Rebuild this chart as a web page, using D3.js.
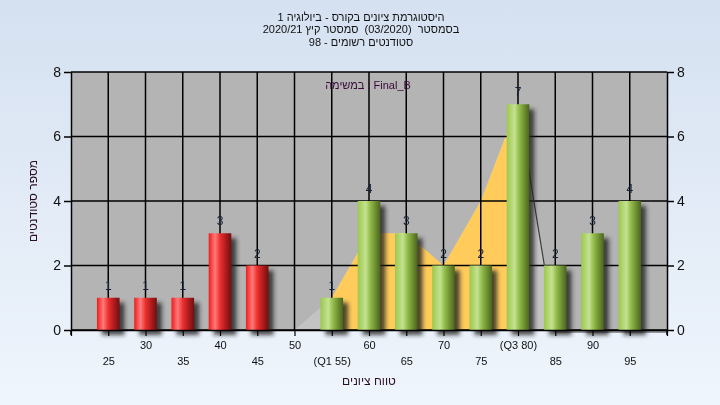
<!DOCTYPE html>
<html><head><meta charset="utf-8">
<script src="https://cdn.jsdelivr.net/npm/d3@7"></script>
<style>
html,body{margin:0;padding:0;}
body{width:720px;height:405px;overflow:hidden;font-family:"Liberation Sans","DejaVu Sans",Arial,sans-serif;}
</style></head>
<body>
<svg id="c" width="720" height="405"></svg>
<script>
// ---- data ----
const binStarts = [25,30,35,40,45,50,55,60,65,70,75,80,85,90,95];
const counts    = [1,1,1,3,2,0,1,4,3,2,2,7,2,3,4];
const tickLabels = ["25","30","35","40","45","50","(Q1 55)","60","65","70","75","(Q3 80)","85","90","95"];
const areaX = [50,55,60,65,70,75,80,85,90,95,100];
const areaY = [0,1,3,3,2,4,7,0,0,0,0];
const yTicks = [0,2,4,6,8];
const titleLines = ["היסטוגרמת ציונים בקורס - ביולוגיה 1","בסמסטר  (03/2020)  סמסטר קיץ 2020/21","סטודנטים רשומים - 98"];
const taskLabel = "במשימה : Final_B";
const xTitle = "טווח ציונים";
const yTitle = "מספר סטודנטים";
const q1 = 55, q3 = 80, passMark = 55;

const svg = d3.select("#c");
const W=720,H=405;
const L=71,R=667,T=72,B=330;
const x = d3.scaleLinear([20,100],[L,R]);
const y = d3.scaleLinear([0,8],[B,T]);

const defs = svg.append("defs");
const bg = defs.append("linearGradient").attr("id","bg").attr("x1",0).attr("y1",0).attr("x2",0).attr("y2",1);
bg.append("stop").attr("offset","0%").attr("stop-color","#d5e1f1");
bg.append("stop").attr("offset","100%").attr("stop-color","#eff5fc");
function grad(id,stops){
  const g=defs.append("linearGradient").attr("id",id).attr("x1",0).attr("y1",0).attr("x2",1).attr("y2",0);
  stops.forEach(s=>g.append("stop").attr("offset",s[0]).attr("stop-color",s[1]));
}
grad("red",[["0%","#f01c1c"],["28%","#ff7a7a"],["50%","#ec3030"],["75%","#b01c1c"],["100%","#701010"]]);
grad("green",[["0%","#9cc84e"],["35%","#c4e290"],["55%","#94bc4c"],["80%","#6a8c30"],["100%","#4a641e"]]);
const f = defs.append("filter").attr("id","sh").attr("x","-50%").attr("y","-50%").attr("width","200%").attr("height","200%");
f.append("feGaussianBlur").attr("stdDeviation",2.2);
defs.append("clipPath").attr("id","q").append("rect").attr("x",x(q1)).attr("y",T).attr("width",x(q3)-x(q1)).attr("height",B-T);
defs.append("clipPath").attr("id","plot").append("rect").attr("x",L).attr("y",T).attr("width",R-L).attr("height",B-T);

svg.append("rect").attr("width",W).attr("height",H).attr("fill","url(#bg)");
svg.append("rect").attr("x",L).attr("y",T).attr("width",R-L).attr("height",B-T).attr("fill","#b4b4b4");

// area (distribution outline)
const pts = areaX.map((v,i)=>[v,areaY[i]]);
const area = d3.area().x(d=>x(d[0])).y0(y(0)).y1(d=>y(d[1]));
svg.append("path").datum(pts).attr("d",area).attr("fill","#c3c3c3").attr("clip-path","url(#plot)");
svg.append("path").datum(pts).attr("d",area).attr("fill","#ffcc5c").attr("clip-path","url(#q)");

// grid
const g = svg.append("g").attr("stroke","#000").attr("stroke-width",1.5);
binStarts.forEach(v=>g.append("line").attr("x1",x(v)).attr("x2",x(v)).attr("y1",T).attr("y2",B));
yTicks.forEach(v=>g.append("line").attr("x1",L).attr("x2",R).attr("y1",y(v)).attr("y2",y(v)));

// area edge line after Q3
const edge = pts.filter(d=>d[0]>=q3);
svg.append("path").datum(edge).attr("d",d3.line().x(d=>x(d[0])).y(d=>d[1]===0?y(0)+2:y(d[1])))
  .attr("fill","none").attr("stroke","#3c3c3c").attr("stroke-width",1.2);

// bars
const bw = 22.6;
const data = binStarts.map((v,i)=>({v,c:counts[i],lab:tickLabels[i]})).filter(d=>d.c>0);
svg.append("g").attr("filter","url(#sh)").selectAll("rect").data(data).join("rect")
  .attr("x",d=>x(d.v)-bw/2+5).attr("y",d=>y(d.c)+5).attr("width",bw).attr("height",d=>y(0)-y(d.c))
  .attr("fill","#202020").attr("opacity",0.8);
svg.append("g").selectAll("rect").data(data).join("rect")
  .attr("x",d=>x(d.v)-bw/2).attr("y",d=>y(d.c)).attr("width",bw).attr("height",d=>y(0)-y(d.c))
  .attr("fill",d=>d.v<passMark?"url(#red)":"url(#green)");
svg.append("g").selectAll("text").data(data).join("text")
  .attr("x",d=>x(d.v)).attr("y",d=>y(d.c)-8).attr("text-anchor","middle")
  .attr("font-size",12).attr("fill","#142238").text(d=>d.c);

// axes
const axB = svg.append("g").attr("transform",`translate(0,${B})`)
  .call(d3.axisBottom(x).tickValues([20,...binStarts,100]).tickSize(6).tickSizeOuter(0)
    .tickFormat(v=>{const i=binStarts.indexOf(v);return i<0?"":tickLabels[i];}));
axB.select(".domain").attr("stroke","#000").attr("stroke-width",1.5);
axB.selectAll(".tick line").attr("stroke","#000").attr("stroke-width",1.2);
axB.selectAll(".tick text").attr("font-size",11).attr("fill","#111").attr("font-family","Liberation Sans, Arial, sans-serif")
  .attr("y",(v)=>{const i=binStarts.indexOf(v);return i%2===1?11:27;});

function yAxis(gen,xpos){
  const a = svg.append("g").attr("transform",`translate(${xpos},0)`).call(gen.tickValues(yTicks).tickSize(7).tickSizeOuter(0).tickFormat(d3.format("d")));
  a.select(".domain").attr("stroke","#000").attr("stroke-width",1.5);
  a.selectAll(".tick line").attr("stroke","#000").attr("stroke-width",1.5);
  a.selectAll(".tick text").attr("font-size",14).attr("fill","#111").attr("font-family","Liberation Sans, Arial, sans-serif");
  return a;
}
yAxis(d3.axisLeft(y),L);
yAxis(d3.axisRight(y),R);
[L,R].forEach(xx=>svg.append("line").attr("x1",xx).attr("x2",xx).attr("y1",B).attr("y2",B+5).attr("stroke","#000").attr("stroke-width",1.5));

// titles (plain text, natural bidi)
const tt = svg.append("g").attr("font-size",11).attr("fill","#111").attr("text-anchor","middle");
titleLines.forEach((t,i)=>tt.append("text").attr("x",361).attr("y",21+i*12.3).attr("xml:space","preserve").style("white-space","pre").text(t));
svg.append("text").attr("x",368).attr("y",89).attr("text-anchor","middle")
  .attr("font-size",11).attr("fill","#3a0a3a").text(taskLabel);
svg.append("text").attr("x",369).attr("y",385).attr("text-anchor","middle")
  .attr("font-size",12).attr("fill","#2a1020").text(xTitle);
svg.append("text").attr("transform",`translate(37,${(T+B)/2}) rotate(-90)`).attr("text-anchor","middle")
  .attr("font-size",12).attr("fill","#2a1020").text(yTitle);
</script>
</body></html>
